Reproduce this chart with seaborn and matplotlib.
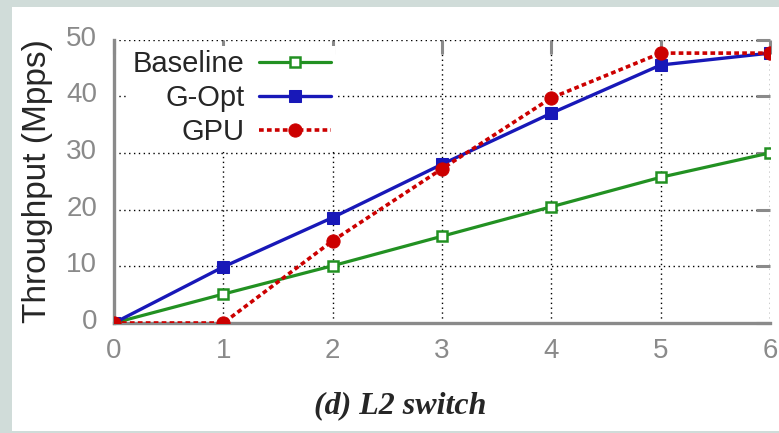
import numpy as np
import pandas as pd
import matplotlib
matplotlib.use("Agg")
import matplotlib.pyplot as plt
import matplotlib.transforms as mtransforms
from matplotlib.patches import Rectangle
import seaborn as sns

# data
x_vals = [0, 1, 2, 3, 4, 5, 6]
baseline = [0, 5.1, 10.1, 15.3, 20.5, 25.7, 30.0]
g_opt = [0, 9.9, 18.6, 28.0, 37.0, 45.5, 47.6]
gpu = [0, 0, 14.5, 27.2, 39.7, 47.6, 47.6]
y_ticks = [0, 10, 20, 30, 40, 50]

sns.set_style("white")
plt.rcParams['font.family'] = ['Liberation Sans', 'DejaVu Sans']
narrow = ['Liberation Sans Narrow', 'Liberation Sans', 'DejaVu Sans']

fig = plt.figure(figsize=(7.79, 4.33), dpi=100)
fig.patch.set_facecolor("#d0dcd9")
fig.patches.append(Rectangle((12 / 779, 2 / 433), 767 / 779, 424 / 433,
                             transform=fig.transFigure, facecolor="white",
                             edgecolor="none", zorder=-10))
ax = fig.add_axes([114 / 779, 1 - 323 / 433, 656 / 779, 283.5 / 433])
ax.set_facecolor("none")

green, blue, red = "#229122", "#1818b8", "#cc0000"
sns.lineplot(x=x_vals, y=baseline, ax=ax, color=green, lw=2.3,
             marker="s", markersize=7, markerfacecolor="white",
             markeredgecolor=green, markeredgewidth=1.8, label="Baseline", zorder=3)
sns.lineplot(x=x_vals, y=g_opt, ax=ax, color=blue, lw=2.4,
             marker="s", markersize=9, markeredgecolor=blue, label="G-Opt", zorder=4)
sns.lineplot(x=x_vals, y=gpu, ax=ax, color=red, lw=2.6, linestyle=(0, (1.3, 0.9)),
             marker="o", markersize=9.5, markeredgecolor=red, label="GPU", zorder=5)

ax.set_xlim(0, 6)
ax.set_ylim(0, 50)
ax.set_xticks(x_vals)
ax.set_yticks(y_ticks)
ax.grid(True, color="black", linestyle=(0, (1, 2.5)), lw=1.0)
ax.set_axisbelow(True)

for s in ["left", "bottom"]:
    ax.spines[s].set_color("#8a8a8a")
    ax.spines[s].set_linewidth(2.4)
for s in ["top", "right"]:
    ax.spines[s].set_visible(False)

ax.tick_params(axis="both", direction="in", length=10, width=2.2, color="#8a8a8a",
               labelcolor="#8a8a8a", labelsize=20, top=True, right=True)
ax.tick_params(axis="x", pad=11)
ax.tick_params(axis="y", pad=12)
for lab in ax.get_xticklabels() + ax.get_yticklabels():
    lab.set_family(narrow)
up = mtransforms.ScaledTranslation(0, 4 / 100, fig.dpi_scale_trans)
for lab in ax.get_yticklabels():
    lab.set_transform(lab.get_transform() + up)

ax.set_xlabel("")
ax.set_ylabel("Throughput (Mpps)", fontsize=24)
ax.yaxis.set_label_coords(-0.093, 0.5)

leg = ax.legend(loc="upper right", bbox_to_anchor=(335 / 779, 1 - 46 / 433),
                bbox_transform=fig.transFigure, frameon=True, facecolor="white",
                edgecolor="none", framealpha=1, fancybox=False,
                markerfirst=False, handlelength=2.45, labelspacing=0.2,
                handletextpad=0.5, borderaxespad=0, borderpad=0.15,
                prop={"family": narrow, "size": 21})
for col in leg._legend_box._children[1]._children:
    col.align = "right"

fig.text(400 / 779, 1 - 406 / 433, "(d) L2 switch", ha="center", va="center",
         fontsize=23, fontweight="bold", fontstyle="italic", family="Liberation Serif")

fig.savefig("out.png", dpi=100)
